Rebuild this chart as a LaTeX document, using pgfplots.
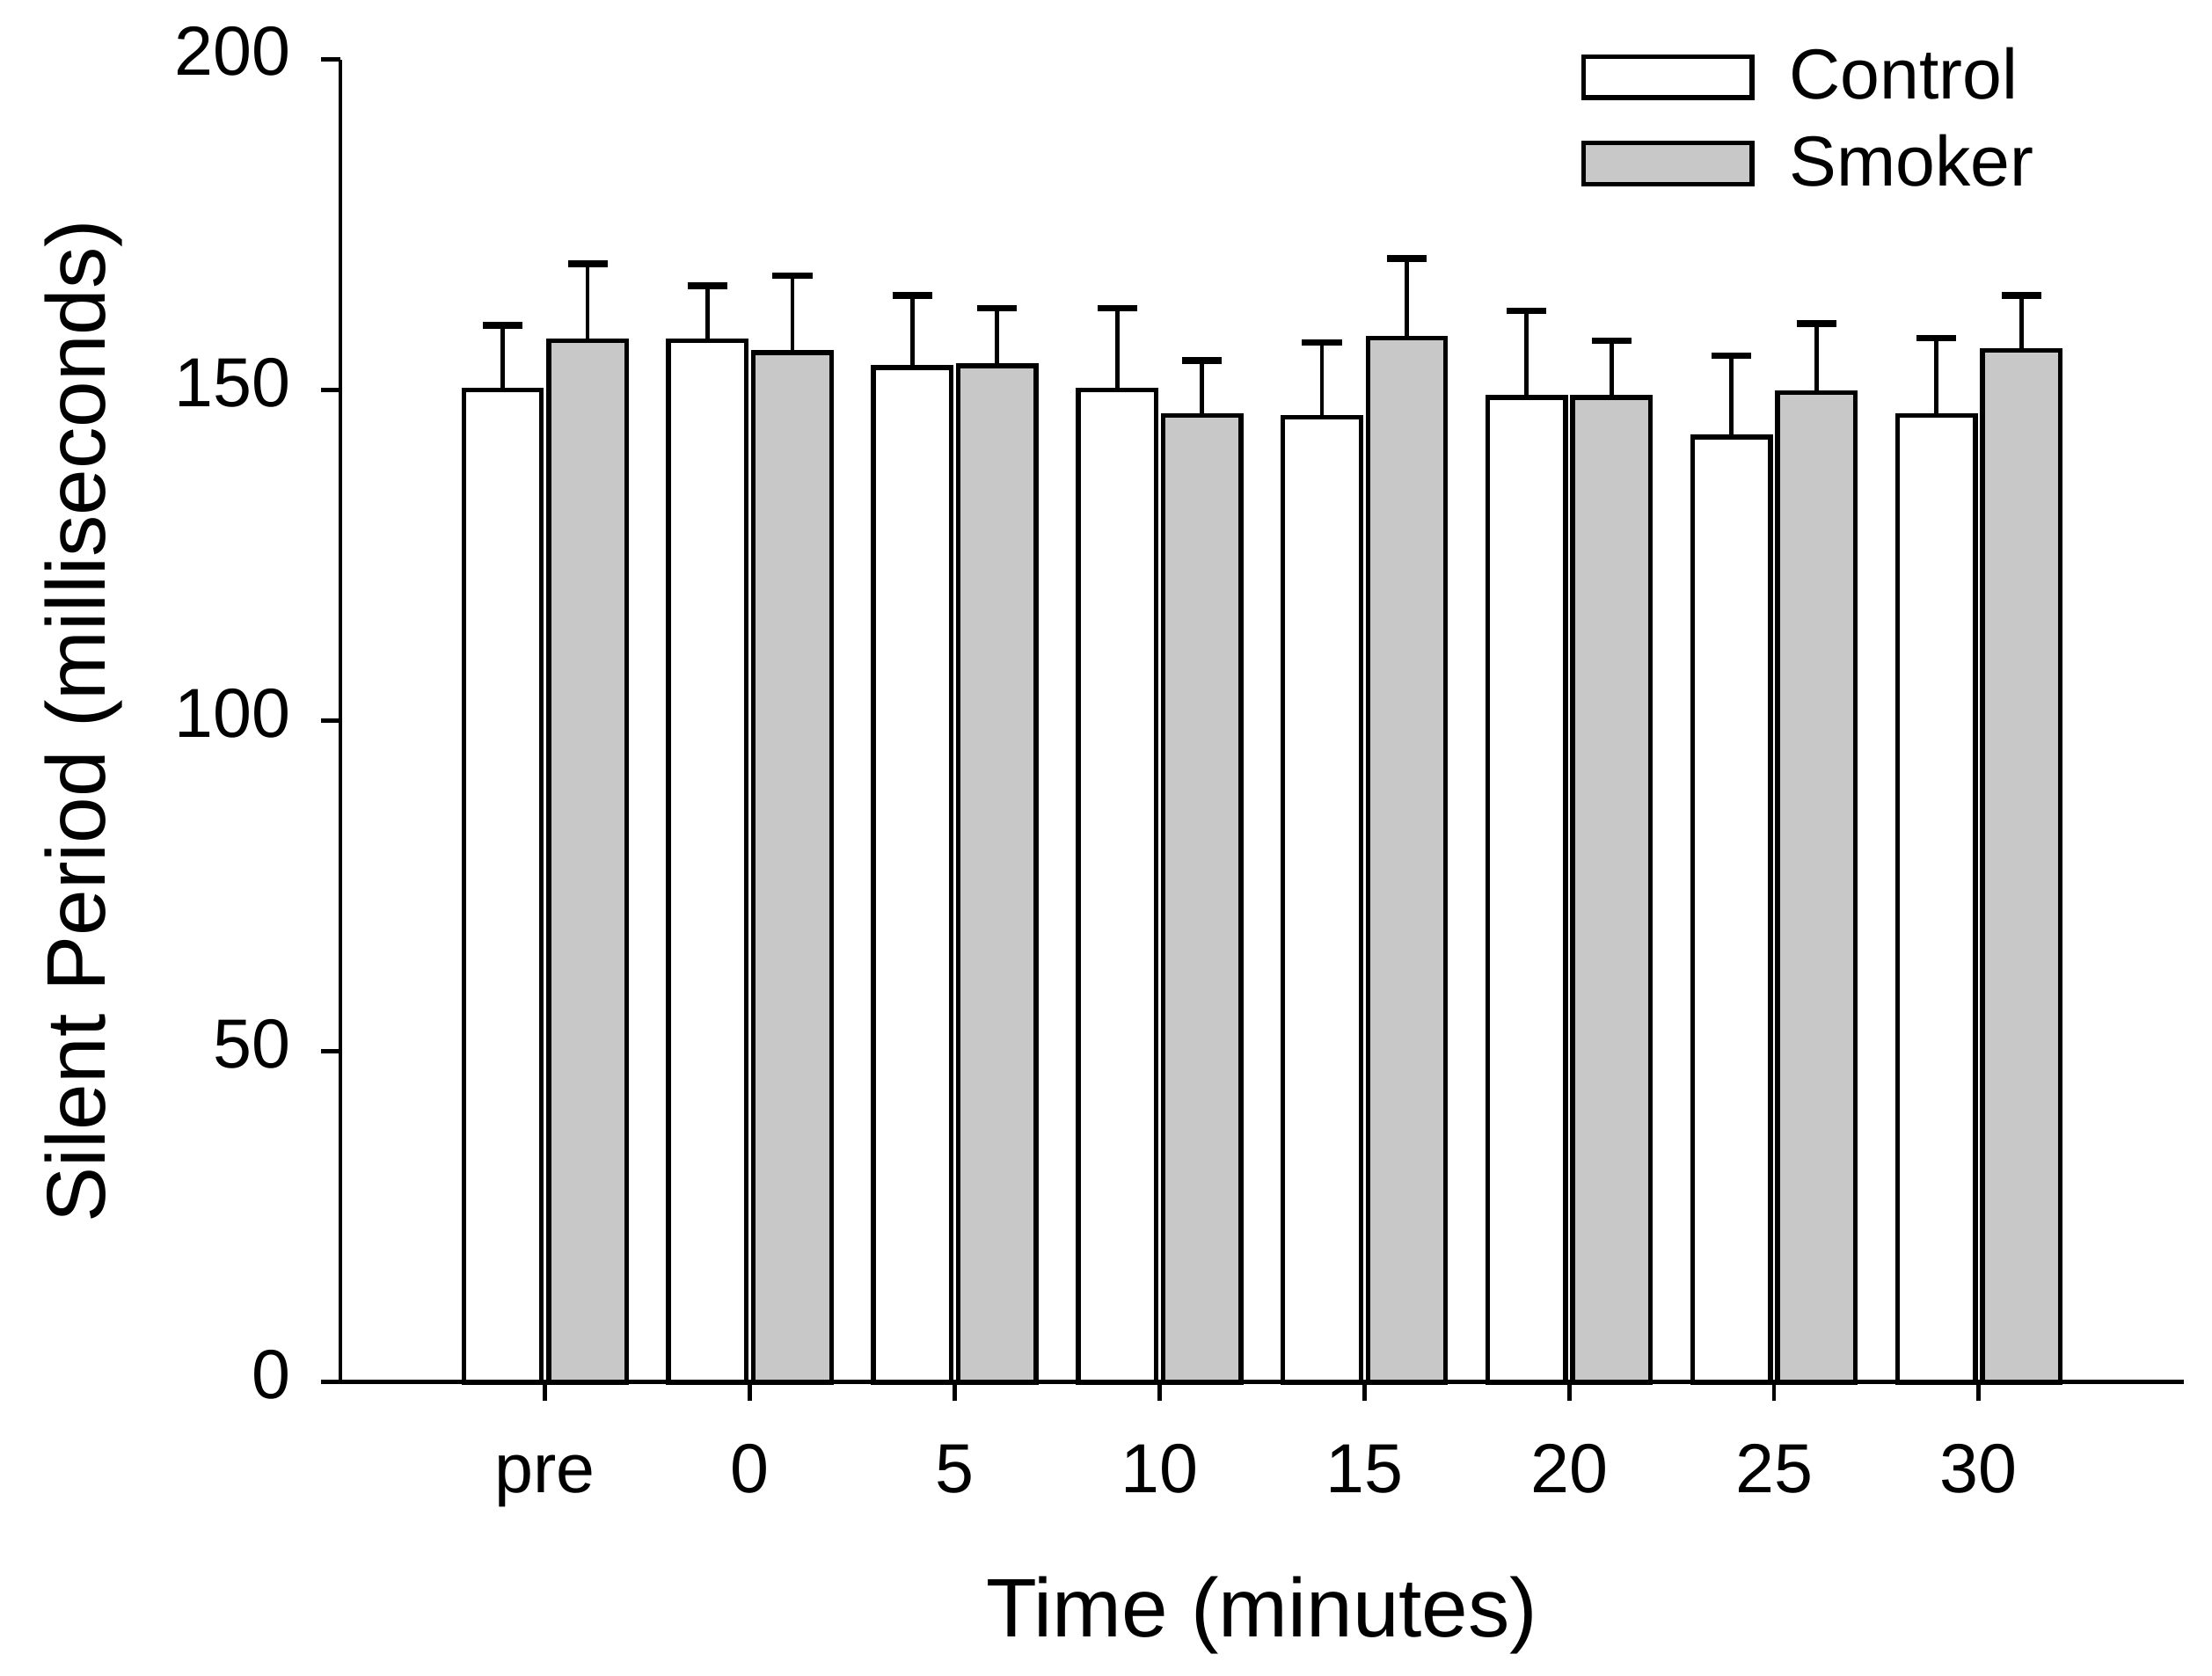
\documentclass[border=0pt]{standalone}
\usepackage{pgfplots}
\pgfplotsset{compat=1.18}
\usetikzlibrary{calc}
\usepackage{fontspec}
\setmainfont{Liberation Sans}
\definecolor{smokegray}{RGB}{200,200,200}
\begin{document}
\begin{tikzpicture}
\begin{axis}[
  name=ax,
  scale only axis,
  width=390pt, height=279.9pt,
  xmin=-1, xmax=8, ymin=0, ymax=200,
  ybar=1.5pt, bar width=0.38,
  axis lines*=left,
  axis line style={line width=0.9pt, black, -},
  xtick={0,1,2,3,4,5,6,7},
  xticklabels={pre,0,5,10,15,20,25,30},
  ytick={0,50,100,150,200},
  tick align=outside,
  major tick length=4pt,
  tick style={line width=0.9pt, black},
  /pgf/number format/assume math mode=true,
  typeset ticklabels with strut,
  ticklabel style={font=\fontsize{14.7}{17}\selectfont},
  xticklabel style={yshift=-4pt},
  yticklabel style={xshift=-3pt},
  xlabel={Time (minutes)},
  ylabel={Silent Period (milliseconds)},
  label style={font=\fontsize{17.6}{21}\selectfont},
  xlabel style={at={(axis description cs:0.5,-0.1465)}, anchor=north, inner sep=0pt},
  ylabel style={at={(axis description cs:-0.1177,0.5)}, anchor=south, inner sep=0pt, rotate=0},
  legend cell align=left,
  legend image code/.code={\draw[#1] (0pt,-4.35pt) rectangle (35.7pt,4.35pt);},
  legend style={draw=none, fill=none, inner sep=0pt, outer sep=0pt,
    at={(rel axis cs:1,1)}, anchor=north west, xshift=-127.5pt, yshift=2.45pt,
    row sep=5.9pt, column sep=7.4pt,
    font=\fontsize{15}{18}\selectfont,
    nodes={inner sep=0pt, outer sep=0pt}},
  clip=false,
]
\addplot[fill=white, draw=black, line width=1pt,
  error bars/.cd, y dir=plus, y explicit,
  error bar style={line width=0.9pt, black},
  error mark options={rotate=90, line width=1.4pt, mark size=4.2pt, black}]
  coordinates {
  (0,150.0) +- (0,9.8)
  (1,157.5) +- (0,8.3)
  (2,153.4) +- (0,10.9)
  (3,150.0) +- (0,12.4)
  (4,145.9) +- (0,11.3)
  (5,148.9) +- (0,13.1)
  (6,142.9) +- (0,12.3)
  (7,146.2) +- (0,11.7)
  };
\addlegendentry{Control}
\addplot[fill=smokegray, draw=black, line width=1pt,
  error bars/.cd, y dir=plus, y explicit,
  error bar style={line width=0.9pt, black},
  error mark options={rotate=90, line width=1.4pt, mark size=4.2pt, black}]
  coordinates {
  (0,157.5) +- (0,11.6)
  (1,155.7) +- (0,11.6)
  (2,153.7) +- (0,8.7)
  (3,146.2) +- (0,8.3)
  (4,157.9) +- (0,12.0)
  (5,148.9) +- (0,8.6)
  (6,149.6) +- (0,10.5)
  (7,156.0) +- (0,8.3)
  };
\addlegendentry{Smoker}
\end{axis}
\pgfresetboundingbox
\path[use as bounding box] ($(ax.south west)+(-72pt,-62.1pt)$) rectangle ($(ax.north east)+(6pt,12.6pt)$);
\end{tikzpicture}
\end{document}
